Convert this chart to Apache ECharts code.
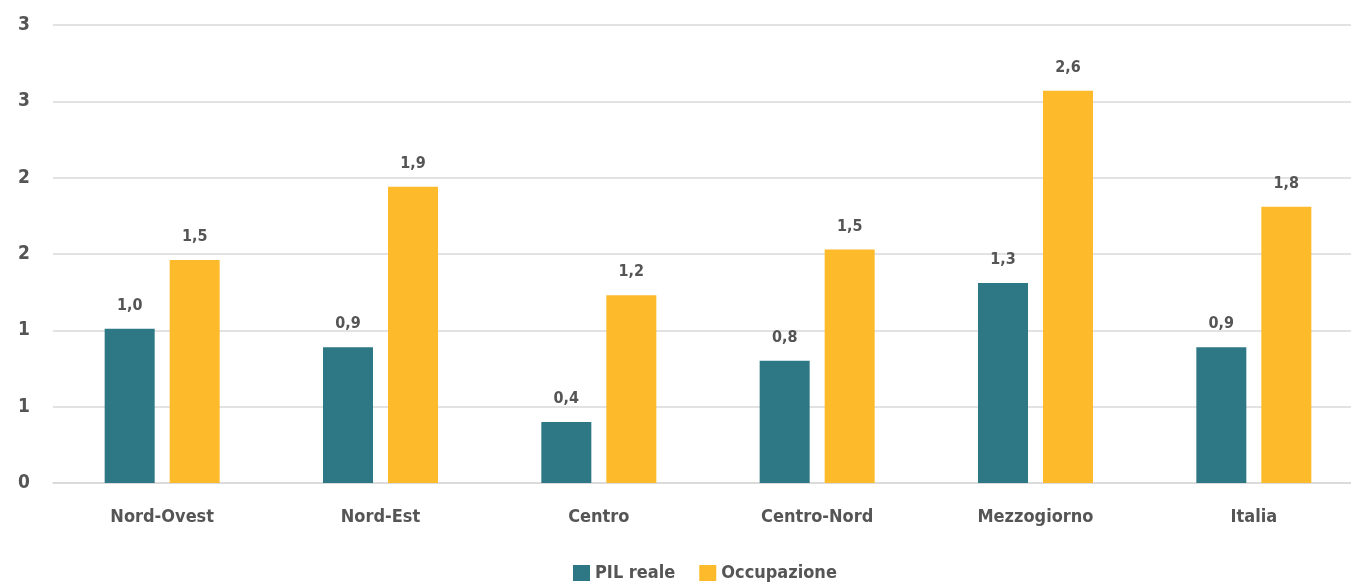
<!DOCTYPE html>
<html>
<head>
<meta charset="utf-8">
<script src="https://cdn.jsdelivr.net/npm/echarts@6/dist/echarts.min.js"></script>
<style>
html,body{margin:0;padding:0;background:#fff;overflow:hidden;}
#c{width:1363px;height:585px;}
</style>
</head>
<body>
<div id="c"></div>
<script>
const categories = ['Nord-Ovest', 'Nord-Est', 'Centro', 'Centro-Nord', 'Mezzogiorno', 'Italia'];
const pilReale = [1.01, 0.89, 0.40, 0.80, 1.31, 0.89];
const occupazione = [1.46, 1.94, 1.23, 1.53, 2.57, 1.81];
const yTickValues = [0, 0.5, 1, 1.5, 2, 2.5, 3];
const yTickLabels = ['0', '1', '1', '2', '2', '3', '3'];

const FONT = "'DejaVu Sans Condensed', 'DejaVu Sans', sans-serif";
const TXT = '#555555';
const fmt = v => v.toFixed(1).replace('.', ',');

const chart = echarts.init(document.getElementById('c'), null, {renderer: 'canvas'});
chart.setOption({
  animation: false,
  backgroundColor: '#ffffff',
  textStyle: {fontFamily: FONT},
  grid: {left: 53, right: 0, top: 25, bottom: 102, containLabel: false},
  legend: {
    left: 568, top: 559,
    itemWidth: 17, itemHeight: 16, itemGap: 24,
    icon: 'rect',
    textStyle: {fontFamily: FONT, fontWeight: 'bold', fontSize: 18, color: TXT},
    data: ['PIL reale', 'Occupazione']
  },
  xAxis: {
    type: 'category',
    data: categories,
    axisLine: {lineStyle: {color: '#d9d9d9', width: 1.5}},
    axisTick: {show: false},
    axisLabel: {margin: 25, fontFamily: FONT, fontWeight: 'bold', fontSize: 18, color: TXT}
  },
  yAxis: {
    type: 'value',
    min: 0, max: 3, interval: 0.5,
    axisLine: {show: false},
    axisTick: {show: false},
    splitLine: {lineStyle: {color: '#d9d9d9', width: 1.5}},
    axisLabel: {
      margin: 23, fontFamily: FONT, fontWeight: 'bold', fontSize: 19, color: TXT,
      formatter: v => {
        const i = yTickValues.findIndex(t => Math.abs(t - v) < 1e-9);
        return i >= 0 ? yTickLabels[i] : '';
      }
    }
  },
  series: [
    {
      name: 'PIL reale', type: 'bar', data: pilReale,
      barWidth: 50, barGap: '30%',
      itemStyle: {color: '#2E7886'},
      label: {show: true, position: 'top', distance: 15, fontFamily: FONT, fontWeight: 'bold', fontSize: 16, color: TXT,
        formatter: p => fmt(p.value)}
    },
    {
      name: 'Occupazione', type: 'bar', data: occupazione,
      barWidth: 50,
      itemStyle: {color: '#FDBA2A'},
      label: {show: true, position: 'top', distance: 15, fontFamily: FONT, fontWeight: 'bold', fontSize: 16, color: TXT,
        formatter: p => fmt(p.value)}
    }
  ]
});
</script>
</body>
</html>
